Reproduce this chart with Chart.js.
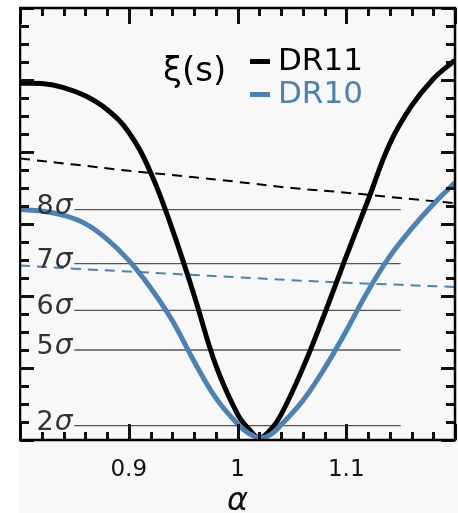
<!DOCTYPE html>
<html>
<head>
<meta charset="utf-8">
<script src="https://cdn.jsdelivr.net/npm/chart.js@4.4.1/dist/chart.umd.min.js"></script>
<style>
  html, body { margin: 0; padding: 0; background: #ffffff; }
  #wrap { position: absolute; left: 19px; top: 5px; width: 439px; height: 508px; background: #f8f8f8; }
</style>
</head>
<body>
<div id="wrap"><canvas id="chart" width="439" height="508"></canvas></div>
<script>
// Δχ² profile against alpha

var alpha = [0.80, 0.82, 0.84, 0.86, 0.88, 0.90, 0.92, 0.94, 0.96, 0.98, 1.00, 1.01, 1.02, 1.03, 1.04, 1.06, 1.08, 1.10, 1.12, 1.14, 1.16, 1.18, 1.20];
var dr11 = [99.1, 99.0, 97.9, 95.6, 91.8, 85.5, 74.4, 58.6, 40.3, 20.8, 7.2, 3.2, 0.6, 2.7, 7.0, 19.9, 35.0, 51.0, 66.6, 82.3, 92.8, 100.3, 105.5];
var dr10 = [64.0, 63.6, 62.4, 60.1, 55.8, 49.9, 42.3, 33.2, 21.9, 11.7, 4.5, 1.9, 0.6, 1.4, 4.2, 10.9, 19.9, 30.3, 41.4, 51.0, 58.7, 65.5, 71.5];

// no-BAO curves (dashed)
var alphaNoBao = [0.80, 0.85, 0.90, 0.95, 1.00, 1.05, 1.10, 1.15, 1.20];
var dr11NoBao = [78.2, 76.5, 74.8, 73.3, 71.7, 70.0, 68.7, 67.2, 65.8];
var dr10NoBao = [48.5, 47.6, 46.8, 46.0, 45.2, 44.4, 43.7, 43.1, 42.5];

// significance levels
var sigmaLevels = [2, 5, 6, 7, 8];
var sigmaChi2 = [4, 25, 36, 49, 64];
var sigmaSpan = [0.85, 1.15];

var xTickLabels = [0.9, 1, 1.1];
var seriesNames = ["DR11", "DR10"];
var seriesColors = ["#000000", "#4a82b6"];

function pts(xs, ys) {
  return xs.map(function (x, i) { return { x: x, y: ys[i] }; });
}

var datasets = [
  { label: "DR10", data: pts(alpha, dr10), borderColor: seriesColors[1], borderWidth: 5, order: 1 },
  { label: "DR11", data: pts(alpha, dr11), borderColor: seriesColors[0], borderWidth: 5, order: 2 },
  { label: "DR11 noBAO", data: pts(alphaNoBao, dr11NoBao), borderColor: "#000000", borderWidth: 2, borderDash: [10, 7], order: 3 },
  { label: "DR10 noBAO", data: pts(alphaNoBao, dr10NoBao), borderColor: seriesColors[1], borderWidth: 2, borderDash: [10, 7], order: 4 },
];
sigmaChi2.forEach(function (v, i) {
  datasets.push({
    label: sigmaLevels[i] + "σ",
    data: pts(sigmaSpan, [v, v]),
    borderColor: "#555555",
    borderWidth: 1.3,
    tension: 0,
    order: 10,
  });
});

// inward ticks on all four sides
var tickPlugin = {
  id: "inticks",
  afterDatasetsDraw: function (chart) {
    var ctx = chart.ctx;
    var xs = chart.scales.x, ys = chart.scales.y;
    var a = chart.chartArea;
    ctx.save();
    ctx.fillStyle = "#111111";
    for (var k = 0; k <= 20; k++) {
      var px = Math.round(xs.getPixelForValue(0.8 + k * 0.02));
      var len = (k % 5 === 0) ? 16 : 8;
      ctx.fillRect(px - 1, a.bottom - len, 3, len);
      ctx.fillRect(px - 1, a.top, 3, len);
    }
    for (var j = 0; j <= 24; j++) {
      var py = Math.round(ys.getPixelForValue(j * 5));
      var l2 = (j % 4 === 0) ? 14 : 9;
      ctx.fillRect(a.left, py - 1, l2, 3);
      ctx.fillRect(a.right - l2, py - 1, l2, 3);
    }
    ctx.strokeStyle = "#000000";
    ctx.lineWidth = 2.5;
    ctx.strokeRect(a.left, a.top, a.right - a.left, a.bottom - a.top);
    ctx.restore();
  },
};

// sigma labels and the legend
var labelPlugin = {
  id: "labels",
  afterDraw: function (chart) {
    var ctx = chart.ctx;
    var xs = chart.scales.x, ys = chart.scales.y;
    ctx.save();
    ctx.textBaseline = "alphabetic";
    sigmaLevels.forEach(function (s, i) {
      var xr = xs.getPixelForValue(sigmaSpan[0]) - 2;
      var yb = ys.getPixelForValue(sigmaChi2[i]) + 4;
      ctx.fillStyle = "#333333";
      ctx.textAlign = "right";
      ctx.font = "italic 28px 'DejaVu Sans'";
      var w = ctx.measureText("σ").width;
      ctx.fillText("σ", xr, yb);
      ctx.font = "27px 'DejaVu Sans'";
      ctx.fillText(String(s), xr - w - 1, yb);
    });

    ctx.textAlign = "left";
    ctx.fillStyle = "#000000";
    ctx.font = "34px 'DejaVu Sans'";
    ctx.fillText("ξ(s)", 144, 76);
    ctx.font = "31px 'DejaVu Sans'";
    seriesNames.forEach(function (name, i) {
      var yb = 65 + i * 33;
      ctx.fillStyle = seriesColors[i];
      ctx.fillRect(231, yb - 11, 20, 5);
      ctx.fillText(name, 259, yb);
    });
    ctx.restore();
  },
};

new Chart(document.getElementById("chart").getContext("2d"), {
  type: "line",
  data: { datasets: datasets },
  options: {
    responsive: false,
    animation: false,
    devicePixelRatio: 1,
    layout: { padding: { left: 1, right: 3, top: 3, bottom: 0 } },
    elements: {
      point: { radius: 0 },
      line: { tension: 0.4, fill: false },
    },
    scales: {
      x: {
        type: "linear",
        min: 0.8,
        max: 1.2,
        afterBuildTicks: function (scale) {
          scale.ticks = xTickLabels.map(function (v) { return { value: v }; });
        },
        afterFit: function (scale) { scale.height = 73; },
        grid: { display: false },
        border: { display: false },
        ticks: {
          padding: 8,
          color: "#111111",
          font: { family: "'DejaVu Sans'", size: 23 },
          callback: function (v) { return String(v); },
        },
        title: {
          display: true,
          text: "α",
          color: "#111111",
          padding: 0,
          font: { family: "'DejaVu Sans'", size: 32, style: "italic", lineHeight: 0.7 },
        },
      },
      y: { display: false, min: 0, max: 120 },
    },
    plugins: {
      legend: { display: false },
      tooltip: { enabled: false },
    },
  },
  plugins: [tickPlugin, labelPlugin],
});
</script>
</body>
</html>
